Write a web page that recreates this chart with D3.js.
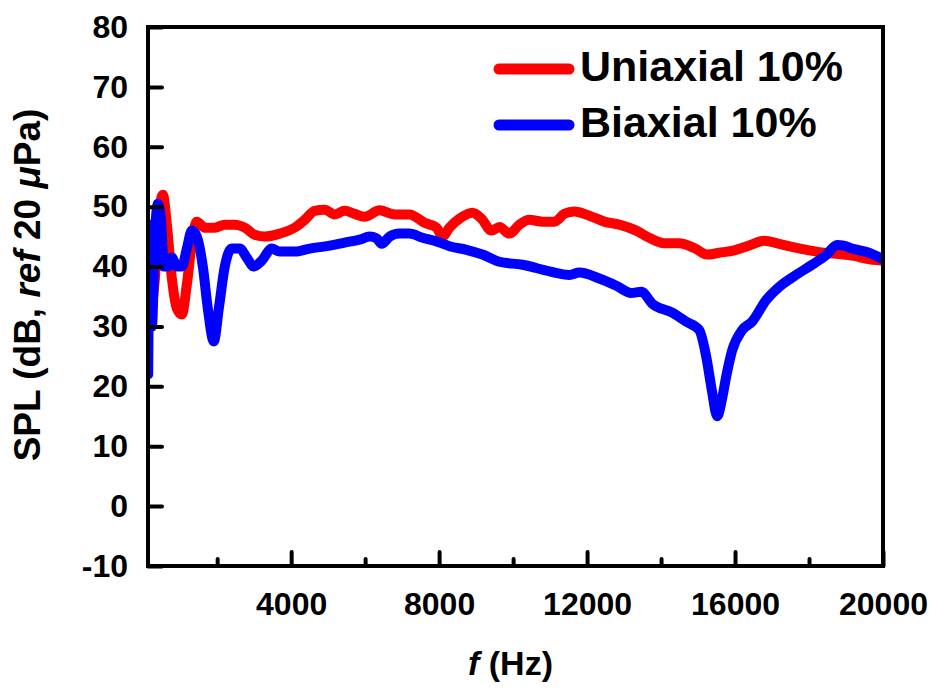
<!DOCTYPE html>
<html>
<head>
<meta charset="utf-8">
<script src="https://cdn.jsdelivr.net/npm/d3@7"></script>
<style>
  body { margin: 0; background: #fff; }
  text { font-family: "Liberation Sans", Arial, sans-serif; font-weight: bold; fill: #000; }
</style>
</head>
<body>
<div id="chart"></div>
<script>
// 频率 (Hz) 与声压级 (dB)
var uniFreq = [181, 316, 451, 532, 640, 775, 910, 1045, 1180, 1315, 1450, 1666, 1936, 2206, 2476, 2746, 3016, 3286, 3691, 4096,
  4366, 4636, 4906, 5176, 5446, 5716, 5986, 6391, 6796, 7201, 7606, 7930, 8092, 8281, 8551, 8902, 9145, 9415, 9631, 9901,
  10171, 10441, 10792, 11116, 11386, 11656, 12061, 12466, 12871, 13330, 13681, 14086, 14491, 14896, 15247, 15571, 15976,
  16381, 16786, 17191, 17596, 18001, 18406, 18811, 19216, 19567, 19945];
var uniSpl = [30, 38, 50, 52, 47, 38, 33, 32, 37, 44, 47.5, 46.5, 46.5, 47, 47, 46.5, 45.3, 45, 45.5, 46.5,
  47.8, 49.3, 49.5, 48.7, 49.3, 48.8, 48.3, 49.4, 48.7, 48.7, 47.3, 46.5, 45, 46.5, 48, 49, 48, 46, 46.6, 45.5,
  47, 47.8, 47.5, 47.5, 48.8, 49.2, 48.5, 47.5, 47, 46, 44.8, 43.9, 43.9, 43.1, 42, 42.3, 42.7,
  43.5, 44.3, 43.8, 43.2, 42.7, 42.3, 42.1, 41.8, 41.3, 41];

var biFreq = [135, 181, 235, 316, 397, 478, 559, 667, 775, 910, 1045, 1180, 1315, 1450, 1612, 1747, 1909, 2044, 2206, 2395,
  2611, 2800, 2989, 3205, 3475, 3691, 4096, 4501, 5041, 5446, 5851, 6121, 6310, 6445, 6661, 6931, 7201, 7552, 7930,
  8281, 8740, 9172, 9631, 10252, 10981, 11521, 11791, 12331, 12790, 13195, 13465, 13762, 14302, 14680, 15031, 15220,
  15382, 15517, 15652, 15760, 15922, 16192, 16462, 16840, 17191, 17650, 18082, 18460, 18757, 18946, 19162, 19621, 19945];
var biSpl = [22, 47, 30, 45, 50.5, 48, 40, 40, 41.5, 40, 40, 43, 46, 45, 40, 33, 27.5, 33, 40, 43,
  43, 41.5, 40, 41, 43, 42.5, 42.5, 43, 43.5, 44, 44.5, 45, 44.7, 43.8, 45, 45.5, 45.5, 44.8, 44.2,
  43.4, 42.8, 42, 40.8, 40.3, 39.2, 38.6, 39, 38, 36.8, 35.6, 35.8, 33.8, 32.3, 30.8, 29.4, 25,
  19, 15, 18, 21.6, 26, 29.4, 30.8, 34.4, 36.6, 38.6, 40.3, 41.9, 43.6, 43.5, 43, 42.3, 41.4];

var xMajor = [4000, 8000, 12000, 16000, 20000];
var xMinor = [2000, 6000, 10000, 14000, 18000];
var yTicks = [-10, 0, 10, 20, 30, 40, 50, 60, 70, 80];
var seriesNames = ["Uniaxial 10%", "Biaxial 10%"];
var seriesColors = ["#ff0000", "#0000ff"];

var W = 939, H = 691,
  pL = 148, pR = 883, pT = 27, pB = 566;

var svg = d3.select("#chart").append("svg").attr("width", W).attr("height", H);

var x = d3.scaleLinear().domain([130, 20000]).range([pL, pR]),
  y = d3.scaleLinear().domain([-10, 80]).range([pB, pT]);

function pairs(fs, vs) {
  return fs.map(function(f, i) { return [f, vs[i]]; });
}
var series = [pairs(uniFreq, uniSpl), pairs(biFreq, biSpl)];

var line = d3.line()
  .x(function(d) { return x(d[0]); })
  .y(function(d) { return y(d[1]); })
  .curve(d3.curveMonotoneX);

svg.append("clipPath").attr("id", "clip").append("rect")
  .attr("x", pL).attr("y", pT).attr("width", pR - pL).attr("height", pB - pT);

svg.append("g").attr("clip-path", "url(#clip)").selectAll("path")
  .data(series).enter().append("path")
  .attr("d", line)
  .style("fill", "none")
  .style("stroke", function(d, i) { return seriesColors[i]; })
  .style("stroke-width", 10)
  .style("stroke-linejoin", "round")
  .style("stroke-linecap", "round");

// 坐标轴
var yAxis = svg.append("g").attr("transform", "translate(" + pL + ",0)")
  .call(d3.axisLeft(y).tickValues(yTicks).tickSizeInner(-14).tickSizeOuter(0).tickPadding(20)
    .tickFormat(String));
var xAxis = svg.append("g").attr("transform", "translate(0," + pB + ")")
  .call(d3.axisBottom(x).tickValues(xMajor).tickSizeInner(-14).tickSizeOuter(0).tickPadding(26)
    .tickFormat(String));
var xAxisMinor = svg.append("g").attr("transform", "translate(0," + pB + ")")
  .call(d3.axisBottom(x).tickValues(xMinor).tickSizeInner(-7).tickSizeOuter(0).tickFormat(""));

[yAxis, xAxis, xAxisMinor].forEach(function(a) {
  a.attr("font-family", null).attr("font-size", null);
  a.select(".domain").remove();
  a.selectAll(".tick line").style("stroke", "#000").style("stroke-width", 4).style("stroke-linecap", "round");
  a.selectAll(".tick text").style("font-size", "32px");
});

svg.append("rect")
  .attr("x", pL).attr("y", pT).attr("width", pR - pL).attr("height", pB - pT)
  .style("fill", "none").style("stroke", "#000").style("stroke-width", 4);

// 轴标题
var xt = svg.append("text").attr("x", 468).attr("y", 675).style("font-size", "34px");
xt.append("tspan").style("font-style", "italic").text("f");
xt.append("tspan").text(" (Hz)");

var yt = svg.append("text").attr("transform", "translate(40,285) rotate(-90)")
  .attr("text-anchor", "middle").style("font-size", "37px");
yt.append("tspan").text("SPL (dB, ");
yt.append("tspan").style("font-style", "italic").text("ref");
yt.append("tspan").text(" 20 ");
yt.append("tspan").style("font-style", "italic").text("\u03bc");
yt.append("tspan").text("Pa)");

// 图例
var legend = svg.append("g").selectAll("g").data(seriesNames).enter().append("g")
  .attr("transform", function(d, i) { return "translate(0," + (69 + i * 56) + ")"; });
legend.append("line")
  .attr("x1", 499).attr("x2", 569).attr("y1", 0).attr("y2", 0)
  .style("stroke", function(d, i) { return seriesColors[i]; })
  .style("stroke-width", 11).style("stroke-linecap", "round");
legend.append("text").attr("x", 580).attr("y", 12).style("font-size", "43px")
  .text(function(d) { return d; });
</script>
</body>
</html>
